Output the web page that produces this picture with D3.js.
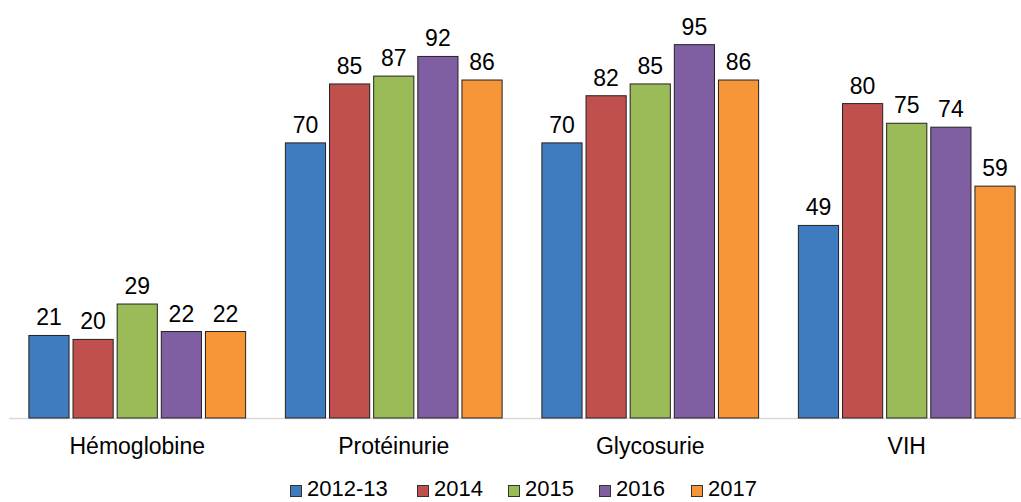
<!DOCTYPE html>
<html><head><meta charset="utf-8">
<script src="https://cdn.jsdelivr.net/npm/d3@7"></script>
<style>body{margin:0;background:#fff}svg{display:block}text{font-family:"Liberation Sans",Arial,sans-serif;fill:#000}</style>
</head><body><svg id="c" width="1021" height="502"></svg>
<script>
const categories = ["Hémoglobine","Protéinurie","Glycosurie","VIH"];
const seriesNames = ["2012-13","2014","2015","2016","2017"];
const s2012_13 = [21,70,70,49];
const s2014 = [20,85,82,80];
const s2015 = [29,87,85,75];
const s2016 = [22,92,95,74];
const s2017 = [22,86,86,59];
const seriesValues = [s2012_13,s2014,s2015,s2016,s2017];
const colors = ["#3F7CBF","#C0504D","#9BBB59","#7F5FA1","#F79639"];

const svg = d3.select("#c");
const x0 = d3.scaleBand().domain(categories).range([9,1035]).paddingInner(0.155).paddingOuter(0.0775);
const x1 = d3.scaleBand().domain(seriesNames).range([0,x0.bandwidth()]).paddingInner(0.09);
const y = d3.scaleLinear().domain([0,100]).range([418,25]);

svg.append("line").attr("x1",9).attr("x2",1035).attr("y1",418.5).attr("y2",418.5).attr("stroke","#d9d9d9").attr("stroke-width",1.5);

seriesNames.forEach((s,si)=>{
  const g = svg.append("g");
  categories.forEach((c,ci)=>{
    const v = seriesValues[si][ci];
    const bx = x0(c)+x1(s);
    g.append("rect").attr("x",bx).attr("y",y(v)).attr("width",x1.bandwidth()).attr("height",y(0)-y(v))
      .attr("fill",colors[si]).attr("stroke","#222").attr("stroke-width",1);
    g.append("text").attr("x",bx+x1.bandwidth()/2).attr("y",y(v)-10).attr("text-anchor","middle")
      .attr("font-size",23).text(v);
  });
});

categories.forEach(c=>{
  svg.append("text").attr("x",x0(c)+x0.bandwidth()/2).attr("y",454).attr("text-anchor","middle").attr("font-size",23).text(c);
});

const legX = [290,417,508,599,691];
seriesNames.forEach((s,i)=>{
  svg.append("rect").attr("x",legX[i]+0.5).attr("y",485.5).attr("width",11).attr("height",11).attr("fill",colors[i]).attr("stroke","#333").attr("stroke-width",1);
  svg.append("text").attr("x",legX[i]+17).attr("y",496).attr("font-size",22).text(s);
});
</script></body></html>
